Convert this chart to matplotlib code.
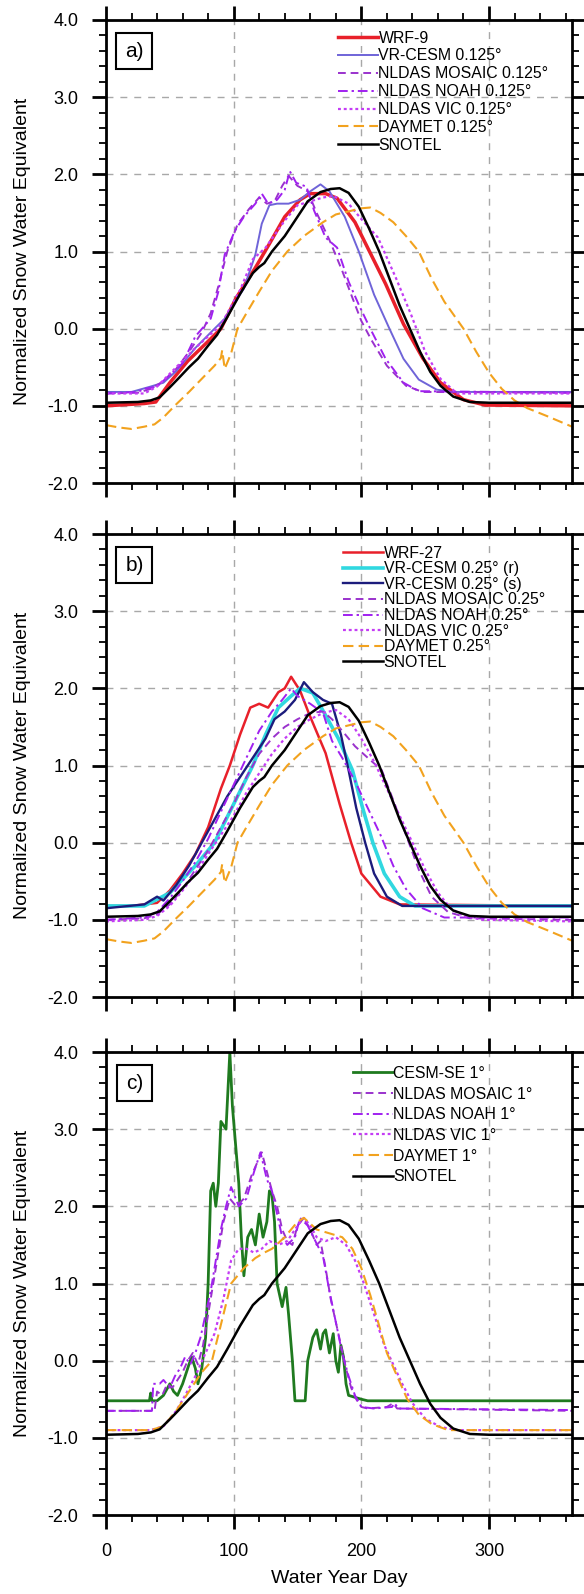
import matplotlib
matplotlib.use("Agg")
import matplotlib.pyplot as plt
from matplotlib.ticker import MultipleLocator, FormatStrFormatter

plt.rcParams['font.family'] = ['Liberation Sans', 'DejaVu Sans']
plt.rcParams['axes.unicode_minus'] = False

# ---- data: (water year day, normalized SWE) ----
snotel_day = [0, 25, 35, 42, 50, 57, 65, 72, 80, 87, 95, 105, 115, 120, 124, 130, 140, 150, 158, 168,
              176, 183, 190, 198, 206, 214, 222, 230, 238, 246, 254, 262, 272, 285, 300, 365]
snotel_val = [-0.96, -0.95, -0.93, -0.89, -0.76, -0.64, -0.5, -0.39, -0.22, -0.08, 0.15, 0.45, 0.72, 0.8,
              0.85, 1.0, 1.2, 1.45, 1.65, 1.77, 1.81, 1.82, 1.76, 1.58, 1.3, 1.0, 0.65, 0.3, 0.0, -0.3,
              -0.56, -0.74, -0.88, -0.95, -0.96, -0.96]

daymet_day = [0, 10, 20, 30, 38, 45, 55, 65, 75, 85, 90, 91, 93, 98, 103, 110, 120, 130, 142, 155, 170,
              180, 190, 200, 207, 215, 225, 235, 245, 255, 265, 280, 290, 300, 310, 320, 330, 345, 355, 365]
daymet_val = [-1.25, -1.28, -1.3, -1.27, -1.24, -1.15, -0.98, -0.82, -0.65, -0.48, -0.38, -0.28, -0.52,
              -0.32, 0.0, 0.2, 0.48, 0.75, 1.0, 1.2, 1.38, 1.48, 1.52, 1.56, 1.57, 1.5, 1.38, 1.2, 1.0,
              0.65, 0.35, 0.0, -0.3, -0.57, -0.78, -0.93, -1.03, -1.13, -1.2, -1.27]

# panel a
wrf9_day = [0, 20, 30, 39, 50, 64, 79, 90, 102, 117, 128, 140, 152, 160, 172, 181, 195, 207, 219, 233,
            248, 262, 280, 297, 365]
wrf9_val = [-1.0, -0.98, -0.97, -0.95, -0.7, -0.42, -0.18, 0.0, 0.4, 0.79, 1.1, 1.45, 1.67, 1.75, 1.75,
            1.69, 1.38, 0.98, 0.58, 0.06, -0.38, -0.7, -0.92, -0.99, -1.0]

vr125_day = [0, 20, 35, 45, 55, 70, 85, 93, 108, 117, 122, 128, 134, 143, 152, 160, 168, 175, 187, 198,
             210, 222, 233, 245, 259, 271, 365]
vr125_val = [-0.82, -0.82, -0.75, -0.7, -0.55, -0.25, 0.0, 0.13, 0.52, 0.96, 1.36, 1.6, 1.62, 1.62,
             1.67, 1.78, 1.87, 1.78, 1.45, 1.0, 0.44, 0.0, -0.39, -0.66, -0.79, -0.82, -0.82]

mosaic125_day = [0, 25, 35, 45, 55, 65, 75, 82, 88, 95, 103, 112, 120, 126, 132, 138, 143, 150, 158,
                 165, 175, 185, 193, 200, 208, 220, 235, 248, 365]
mosaic125_val = [-0.84, -0.83, -0.78, -0.68, -0.52, -0.3, -0.05, 0.2, 0.55, 1.0, 1.35, 1.55, 1.7,
                 1.62, 1.65, 1.85, 1.98, 1.85, 1.78, 1.5, 1.15, 0.75, 0.4, 0.1, -0.15, -0.48, -0.74,
                 -0.82, -0.83]

noah125_day = [0, 25, 30, 40, 50, 60, 70, 82, 88, 93, 101, 108, 117, 122, 127, 134, 140, 144, 149, 157,
               163, 172, 181, 190, 198, 207, 219, 233, 245, 365]
noah125_val = [-0.84, -0.82, -0.78, -0.75, -0.6, -0.45, -0.1, 0.13, 0.48, 0.96, 1.27, 1.45, 1.62, 1.75,
               1.62, 1.67, 1.8, 2.04, 1.89, 1.84, 1.53, 1.18, 1.05, 0.61, 0.31, 0.0, -0.39, -0.7, -0.81,
               -0.83]

vic125_day = [0, 30, 40, 55, 70, 90, 105, 115, 125, 140, 150, 160, 170, 178, 190, 200, 213, 227, 239,
              250, 262, 275, 365]
vic125_val = [-0.84, -0.84, -0.75, -0.5, -0.25, 0.05, 0.5, 0.9, 1.05, 1.4, 1.6, 1.65, 1.7, 1.72, 1.62,
              1.42, 1.18, 0.66, 0.18, -0.3, -0.65, -0.84, -0.84]

# panel b
wrf27_day = [0, 20, 40, 50, 60, 70, 80, 90, 97, 105, 113, 120, 127, 135, 140, 145, 152, 159, 172, 183,
             192, 200, 215, 230, 365]
wrf27_val = [-0.82, -0.82, -0.78, -0.62, -0.4, -0.15, 0.2, 0.7, 1.0, 1.4, 1.75, 1.8, 1.75, 1.95, 2.0,
             2.15, 1.97, 1.67, 1.16, 0.5, 0.0, -0.4, -0.7, -0.8, -0.82]

vr25r_day = [0, 30, 50, 70, 85, 100, 115, 125, 135, 145, 152, 162, 171, 182, 193, 201, 209, 218, 230,
             242, 365]
vr25r_val = [-0.82, -0.82, -0.65, -0.3, 0.0, 0.5, 1.0, 1.4, 1.75, 1.9, 2.0, 1.94, 1.68, 1.35, 0.94, 0.45,
             0.0, -0.4, -0.7, -0.82, -0.82]

vr25s_day = [0, 30, 40, 45, 55, 65, 75, 85, 95, 105, 115, 125, 132, 140, 148, 155, 162, 170, 177, 184,
             190, 196, 203, 210, 220, 232, 365]
vr25s_val = [-0.85, -0.8, -0.7, -0.75, -0.55, -0.3, 0.0, 0.3, 0.6, 0.85, 1.1, 1.35, 1.6, 1.7, 1.85,
             2.08, 1.95, 1.85, 1.8, 1.4, 0.94, 0.45, 0.0, -0.4, -0.7, -0.82, -0.82]

mosaic25_day = [0, 30, 40, 50, 60, 70, 80, 90, 100, 110, 120, 130, 140, 150, 160, 170, 177, 185, 195,
                205, 216, 225, 235, 245, 255, 268, 285, 365]
mosaic25_val = [-1.0, -0.98, -0.93, -0.8, -0.6, -0.35, -0.1, 0.2, 0.5, 0.85, 1.15, 1.35, 1.5, 1.6,
                1.68, 1.7, 1.6, 1.45, 1.25, 1.1, 0.94, 0.55, 0.1, -0.35, -0.7, -0.9, -0.98, -1.0]

noah25_day = [0, 30, 40, 50, 60, 70, 80, 90, 100, 110, 120, 130, 138, 145, 150, 160, 170, 177, 185, 195,
              205, 215, 225, 235, 248, 265, 365]
noah25_val = [-1.0, -0.97, -0.9, -0.72, -0.5, -0.25, 0.05, 0.4, 0.75, 1.1, 1.45, 1.7, 1.85, 2.0, 1.9,
              1.8, 1.68, 1.32, 1.1, 0.8, 0.45, 0.1, -0.3, -0.6, -0.85, -0.97, -0.97]

vic25_day = [0, 30, 40, 50, 60, 70, 80, 90, 100, 110, 120, 130, 140, 150, 160, 170, 180, 190, 200, 210,
             220, 230, 240, 250, 260, 270, 280, 295, 365]
vic25_val = [-1.02, -1.0, -0.95, -0.82, -0.62, -0.4, -0.15, 0.1, 0.35, 0.65, 0.9, 1.15, 1.35, 1.5, 1.6,
             1.68, 1.72, 1.6, 1.35, 1.05, 0.7, 0.35, 0.0, -0.35, -0.65, -0.85, -0.95, -1.0, -1.02]

# panel c
cesm_day = [0, 34, 35, 36, 40, 45, 50, 53, 56, 60, 64, 67, 70, 72, 75, 78, 80, 82, 84, 86, 88, 90, 92,
            94, 97, 99, 101, 104, 106, 108, 111, 114, 117, 120, 123, 126, 128, 130, 132, 134, 138, 141,
            143, 146, 148, 156, 158, 162, 165, 168, 170, 172, 175, 178, 180, 182, 184, 186, 188, 190,
            200, 205, 365]
cesm_val = [-0.52, -0.52, -0.42, -0.52, -0.52, -0.45, -0.3, -0.4, -0.45, -0.3, -0.1, 0.05, -0.1, -0.3,
            -0.1, 0.3, 1.0, 2.2, 2.3, 2.0, 2.3, 3.1, 3.05, 3.0, 4.0, 3.3, 2.9, 2.3, 1.6, 1.1, 1.6, 1.7,
            1.5, 1.9, 1.6, 1.8, 2.2, 2.15, 1.8, 1.0, 0.7, 0.95, 0.6, 0.0, -0.52, -0.52, 0.0, 0.3, 0.4,
            0.15, 0.35, 0.4, 0.1, 0.35, 0.0, -0.15, 0.2, 0.05, -0.3, -0.45, -0.5, -0.52, -0.52]

mosaic1_day = [0, 38, 40, 44, 48, 52, 56, 60, 64, 68, 72, 76, 80, 84, 88, 92, 97, 102, 108, 114, 118,
               122, 126, 130, 134, 138, 142, 146, 150, 155, 160, 165, 168, 172, 176, 180, 184, 188, 192,
               196, 200, 205, 220, 225, 228, 365]
mosaic1_val = [-0.65, -0.65, -0.4, -0.45, -0.3, -0.35, -0.25, -0.15, 0.0, 0.1, -0.05, 0.2, 0.6, 1.0,
               1.4, 1.8, 2.1, 2.0, 2.1, 2.4, 2.55, 2.7, 2.45, 2.2, 2.0, 1.7, 1.55, 1.5, 1.75, 1.85,
               1.7, 1.5, 1.55, 1.2, 0.8, 0.5, 0.2, -0.1, -0.35, -0.5, -0.6, -0.62, -0.6, -0.55, -0.62,
               -0.65]

noah1_day = [0, 36, 37, 42, 45, 50, 54, 58, 62, 66, 70, 74, 78, 82, 86, 90, 94, 98, 104, 110, 116, 121,
             126, 130, 134, 138, 142, 148, 152, 158, 164, 170, 175, 180, 185, 190, 195, 200, 210, 224,
             226, 229, 365]
noah1_val = [-0.65, -0.65, -0.3, -0.3, -0.25, -0.35, -0.2, -0.1, 0.05, -0.05, 0.1, 0.3, 0.6, 0.9, 1.3,
             1.7, 2.0, 2.25, 2.0, 2.1, 2.45, 2.7, 2.35, 2.2, 1.9, 1.6, 1.5, 1.6, 1.85, 1.75, 1.55, 1.35,
             0.9, 0.5, 0.1, -0.2, -0.45, -0.6, -0.62, -0.6, -0.55, -0.62, -0.64]

vic1_day = [0, 35, 45, 55, 62, 70, 78, 85, 92, 98, 104, 110, 116, 122, 128, 135, 142, 150, 155, 160,
            165, 172, 180, 188, 195, 202, 210, 218, 225, 232, 240, 250, 262, 275, 365]
vic1_val = [-0.9, -0.9, -0.85, -0.65, -0.45, -0.2, 0.1, 0.35, 0.8, 1.3, 1.45, 1.45, 1.4, 1.45, 1.55,
            1.5, 1.55, 1.75, 1.85, 1.75, 1.6, 1.55, 1.6, 1.5, 1.3, 1.0, 0.6, 0.2, -0.05, -0.3, -0.55,
            -0.75, -0.86, -0.9, -0.9]

daymet1_day = [0, 35, 45, 55, 65, 75, 83, 92, 98, 108, 117, 124, 130, 140, 150, 155, 165, 175, 185,
               193, 200, 207, 214, 220, 228, 236, 245, 255, 268, 365]
daymet1_val = [-0.9, -0.9, -0.85, -0.65, -0.4, -0.15, 0.0, 0.6, 1.0, 1.2, 1.33, 1.4, 1.45, 1.6, 1.8,
               1.85, 1.7, 1.65, 1.6, 1.45, 1.2, 0.85, 0.45, 0.1, -0.2, -0.5, -0.7, -0.82, -0.9, -0.9]

# ---- styles ----
RED = '#E8202A'
SLATE = '#6F64D8'
MOS = '#9A32CD'
NOAH = '#A020F0'
VIC = '#C43CF5'
ORANGE = '#F2A21E'
CYAN = '#30D8E0'
NAVY = '#1C1C7C'
GREEN = '#1F7A1F'

ls_mosaic = (0, (4, 2.5))
ls_noah = (0, (5, 2, 1.2, 2))
ls_vic = (0, (1.3, 1.3))
ls_daymet = (0, (5, 2.5))

fig = plt.figure(figsize=(5.84, 15.94), dpi=100)
H = 463 / 1594
left = 106 / 584
width = 466 / 584
ax_a = fig.add_axes([left, 1 - 483 / 1594, width, H])
ax_b = fig.add_axes([left, 1 - 997 / 1594, width, H])
ax_c = fig.add_axes([left, 1 - 1515 / 1594, width, H])


def style_axes(ax, letter, bottom_labels):
    ax.set_xlim(0, 365)
    ax.set_ylim(-2, 4)
    ax.xaxis.set_major_locator(MultipleLocator(100))
    ax.xaxis.set_minor_locator(MultipleLocator(20))
    ax.yaxis.set_major_locator(MultipleLocator(1))
    ax.yaxis.set_minor_locator(MultipleLocator(0.2))
    ax.yaxis.set_major_formatter(FormatStrFormatter('%.1f'))
    ax.tick_params(which='both', direction='out', top=True, right=True, labelsize=13, pad=10)
    ax.tick_params(which='major', length=10, width=2)
    ax.tick_params(which='minor', length=5, width=1.3)
    ax.tick_params(axis='x', labelbottom=bottom_labels)
    for s in ax.spines.values():
        s.set_linewidth(2)
    ax.grid(True, which='major', color='#A8A8A8', linestyle=(0, (5, 5)), linewidth=1)
    ax.set_axisbelow(True)
    ax.set_ylabel('Normalized Snow Water Equivalent', fontsize=14)
    ax.yaxis.set_label_coords(-0.16, 0.5)
    ax.text(0.061, 0.933, letter, transform=ax.transAxes, fontsize=15, ha='center', va='center',
            bbox=dict(boxstyle='square,pad=0.42', fc='white', ec='black', lw=1.5))


def add_legend(ax, x, y, spacing):
    ax.legend(loc='upper left', bbox_to_anchor=(x, y), frameon=False, fontsize=11.4,
              borderpad=0, borderaxespad=0, handlelength=2.5, handletextpad=0.05,
              labelspacing=spacing)


# panel a
ax_a.plot(wrf9_day, wrf9_val, color=RED, lw=2.5, label='WRF-9')
ax_a.plot(vr125_day, vr125_val, color=SLATE, lw=1.4, label='VR-CESM 0.125°')
ax_a.plot(mosaic125_day, mosaic125_val, color=MOS, lw=1.4, ls=ls_mosaic, label='NLDAS MOSAIC 0.125°')
ax_a.plot(noah125_day, noah125_val, color=NOAH, lw=1.4, ls=ls_noah, label='NLDAS NOAH 0.125°')
ax_a.plot(vic125_day, vic125_val, color=VIC, lw=1.6, ls=ls_vic, label='NLDAS VIC 0.125°')
ax_a.plot(daymet_day, daymet_val, color=ORANGE, lw=1.5, ls=ls_daymet, label='DAYMET 0.125°')
ax_a.plot(snotel_day, snotel_val, color='black', lw=1.8, label='SNOTEL')
style_axes(ax_a, 'a)', False)
add_legend(ax_a, 0.498, 0.977, 0.18)

# panel b
ax_b.plot(wrf27_day, wrf27_val, color=RED, lw=1.8, label='WRF-27')
ax_b.plot(vr25r_day, vr25r_val, color=CYAN, lw=2.6, label='VR-CESM 0.25° (r)')
ax_b.plot(vr25s_day, vr25s_val, color=NAVY, lw=1.7, label='VR-CESM 0.25° (s)')
ax_b.plot(mosaic25_day, mosaic25_val, color=MOS, lw=1.4, ls=ls_mosaic, label='NLDAS MOSAIC 0.25°')
ax_b.plot(noah25_day, noah25_val, color=NOAH, lw=1.4, ls=ls_noah, label='NLDAS NOAH 0.25°')
ax_b.plot(vic25_day, vic25_val, color=VIC, lw=1.6, ls=ls_vic, label='NLDAS VIC 0.25°')
ax_b.plot(daymet_day, daymet_val, color=ORANGE, lw=1.5, ls=ls_daymet, label='DAYMET 0.25°')
ax_b.plot(snotel_day, snotel_val, color='black', lw=1.8, label='SNOTEL')
style_axes(ax_b, 'b)', False)
add_legend(ax_b, 0.509, 0.975, 0.04)

# panel c
ax_c.plot(cesm_day, cesm_val, color=GREEN, lw=2.0, label='CESM-SE 1°')
ax_c.plot(mosaic1_day, mosaic1_val, color=MOS, lw=1.4, ls=ls_mosaic, label='NLDAS MOSAIC 1°')
ax_c.plot(noah1_day, noah1_val, color=NOAH, lw=1.4, ls=ls_noah, label='NLDAS NOAH 1°')
ax_c.plot(vic1_day, vic1_val, color=VIC, lw=1.6, ls=ls_vic, label='NLDAS VIC 1°')
ax_c.plot(daymet1_day, daymet1_val, color=ORANGE, lw=1.5, ls=ls_daymet, label='DAYMET 1°')
ax_c.plot(snotel_day, snotel_val, color='black', lw=1.8, label='SNOTEL')
style_axes(ax_c, 'c)', True)
add_legend(ax_c, 0.53, 0.970, 0.36)
ax_c.set_xlabel('Water Year Day', fontsize=14)
ax_c.xaxis.set_label_coords(0.5, -0.118)

fig.savefig('out.png', dpi=100)
